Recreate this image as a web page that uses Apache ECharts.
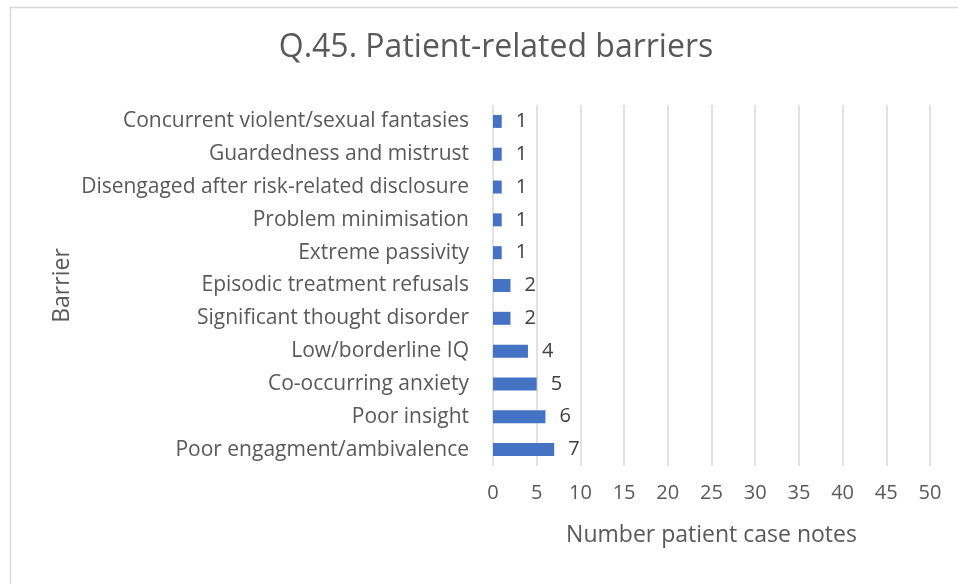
<!DOCTYPE html>
<html>
<head>
<meta charset="utf-8">
<script src="https://cdn.jsdelivr.net/npm/echarts@6/dist/echarts.min.js"></script>
<style>
  html, body { margin: 0; padding: 0; background: #fff; }
  #chart { width: 958px; height: 584px; }
</style>
</head>
<body>
<div id="chart"></div>
<script>
// barriers, listed top to bottom as in the original chart
const barriers = [
  "Concurrent violent/sexual fantasies",
  "Guardedness and mistrust",
  "Disengaged after risk-related disclosure",
  "Problem minimisation",
  "Extreme passivity",
  "Episodic treatment refusals",
  "Significant thought disorder",
  "Low/borderline IQ",
  "Co-occurring anxiety",
  "Poor insight",
  "Poor engagment/ambivalence"
];
const caseNotes = [1, 1, 1, 1, 1, 2, 2, 4, 5, 6, 7];

const font = "'Open Sans', 'Noto Sans', sans-serif";
const textColor = "#595959";

const chart = echarts.init(document.getElementById("chart"));

chart.setOption({
  animation: false,
  textStyle: { fontFamily: font },
  title: {
    text: "Q.45. Patient-related barriers",
    left: 491,
    textAlign: "center",
    top: 27,
    textStyle: { fontSize: 32, fontWeight: "normal", color: textColor, fontFamily: font }
  },
  graphic: [
    {
      type: "rect",
      shape: { x: 10.5, y: 7.5, width: 1000, height: 700 },
      style: { fill: "none", stroke: "#d9d9d9", lineWidth: 1.5 },
      silent: true
    }
  ],
  grid: { left: 493, right: 28, top: 105, bottom: 118 },
  xAxis: {
    type: "value",
    min: 0,
    max: 50,
    interval: 5,
    name: "Number patient case notes",
    nameLocation: "middle",
    nameGap: 58,
    nameTextStyle: { fontSize: 23, color: textColor },
    axisLine: { show: false },
    axisTick: { show: false },
    axisLabel: { fontSize: 20, color: textColor, margin: 17 },
    splitLine: { lineStyle: { color: "#d9d9d9", width: 1.5 } }
  },
  yAxis: {
    type: "category",
    data: barriers.slice().reverse(),
    name: "Barrier",
    nameLocation: "middle",
    nameRotate: 90,
    nameGap: 419,
    nameTextStyle: { fontSize: 23, color: textColor },
    axisLine: { show: false },
    axisTick: { show: false },
    axisLabel: { fontSize: 21, color: textColor, margin: 24 }
  },
  series: [
    {
      type: "bar",
      data: caseNotes.slice().reverse(),
      barWidth: 13,
      itemStyle: { color: "#4472c4" },
      label: {
        show: true,
        position: "right",
        distance: 14,
        fontSize: 20,
        color: "#404040"
      }
    }
  ]
});
</script>
</body>
</html>
